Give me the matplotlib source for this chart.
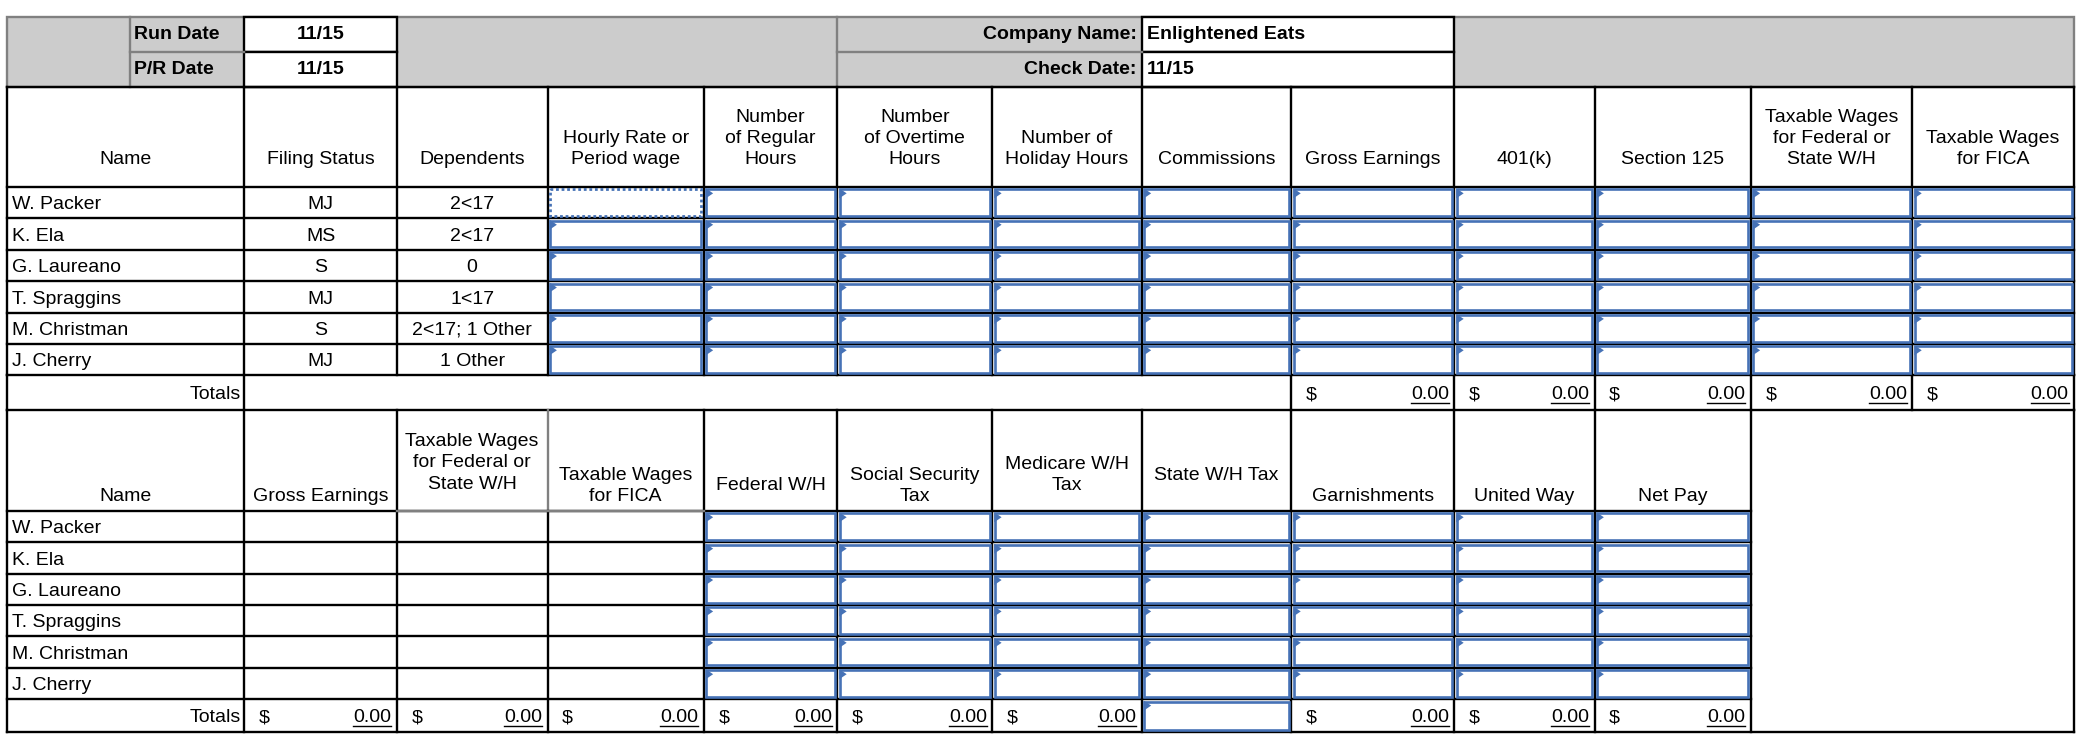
import matplotlib
matplotlib.use('Agg')
import matplotlib.pyplot as plt
from matplotlib.patches import Rectangle, Polygon

plt.rcParams['font.family'] = ['Liberation Sans', 'DejaVu Sans']

# ---- sheet content ----
names = ['W. Packer', 'K. Ela', 'G. Laureano', 'T. Spraggins', 'M. Christman', 'J. Cherry']
filing_status = ['MJ', 'MS', 'S', 'MJ', 'S', 'MJ']
dependents = ['2<17', '2<17', '0', '1<17', '2<17; 1 Other', '1 Other']

run_date = '11/15'
pr_date = '11/15'
company_name = 'Enlightened Eats'
check_date = '11/15'

earnings_headers = ['Name', 'Filing Status', 'Dependents', 'Hourly Rate or\nPeriod wage',
                    'Number\nof Regular\nHours', 'Number\nof Overtime\nHours',
                    'Number of\nHoliday Hours', 'Commissions', 'Gross Earnings', '401(k)',
                    'Section 125', 'Taxable Wages\nfor Federal or\nState W/H',
                    'Taxable Wages\nfor FICA']
# totals for Gross Earnings .. Taxable Wages for FICA
earnings_totals = [0.00, 0.00, 0.00, 0.00, 0.00]

deduction_headers = ['Name', 'Gross Earnings', 'Taxable Wages\nfor Federal or\nState W/H',
                     'Taxable Wages\nfor FICA', 'Federal W/H', 'Social Security\nTax',
                     'Medicare W/H\nTax', 'State W/H Tax', 'Garnishments', 'United Way',
                     'Net Pay']
# totals for Gross Earnings .. Net Pay (State W/H total is an empty input cell)
deduction_totals = [0.00, 0.00, 0.00, 0.00, 0.00, 0.00, None, 0.00, 0.00, 0.00]

# ---- layout (pixel grid of the sheet) ----
col_x = [5, 183, 297, 410, 527, 627, 743, 855, 967, 1089, 1194, 1311, 1432, 1553]
row_h = 23.5
top1, hdr1_bot = 65, 140
tot1_top, tot1_bot = hdr1_bot + 6 * row_h, 307
hdr2_bot = 382.5
tot2_top, tot2_bot = hdr2_bot + 6 * row_h, 548
hdr2_baselines = [375, 375, 366, 375, 367, 375, 367, 359, 375, 375, 375]

GRAY_FILL = '#cccccc'
GRAY_LINE = '#808080'
BLUE = '#4672b6'
FS = 14
LW = 1.7

fig = plt.figure(figsize=(20.94, 7.48), dpi=100)
ax = fig.add_axes([0, 0, 1, 1])
ax.set_xlim(0, 1568)
ax.set_ylim(560, 0)
ax.axis('off')


def hline(y, x0, x1, color='black', lw=LW):
    ax.plot([x0, x1], [y, y], color=color, lw=lw, solid_capstyle='projecting', zorder=3)


def vline(x, y0, y1, color='black', lw=LW):
    ax.plot([x, x], [y0, y1], color=color, lw=lw, solid_capstyle='projecting', zorder=3)


def input_cell(x0, x1, y0, y1, selected=False):
    pad = 1.8
    if selected:
        ax.add_patch(Rectangle((x0 + pad, y0 + pad), x1 - x0 - 2 * pad, y1 - y0 - 2 * pad,
                               fill=False, edgecolor=BLUE, lw=2.0, linestyle=(0, (1, 1)), zorder=4))
        return
    ax.add_patch(Rectangle((x0 + pad, y0 + pad), x1 - x0 - 2 * pad, y1 - y0 - 2 * pad,
                           fill=False, edgecolor=BLUE, lw=1.9, zorder=4))
    ax.add_patch(Polygon([(x0 + 1.5, y0 + 1.0), (x0 + 1.5, y0 + 8.5), (x0 + 7.0, y0 + 4.75)],
                         closed=True, facecolor=BLUE, edgecolor='none', zorder=5))


def lines_text(x, last_baseline, s, ha='center', bold=False, step=16):
    parts = s.split('\n')
    for j, p in enumerate(parts):
        ax.text(x, last_baseline - (len(parts) - 1 - j) * step, p, ha=ha, va='baseline',
                fontsize=FS, fontweight='bold' if bold else 'normal', zorder=6)


underlined = []


def money(x0, x1, yb, v):
    ax.text(x0 + 11, yb, '$', ha='left', va='baseline', fontsize=FS, zorder=6)
    t = ax.text(x1 - 4, yb, f'{v:.2f}', ha='right', va='baseline', fontsize=FS, zorder=6)
    underlined.append((t, yb + 3))


# ---- company header block ----
ax.add_patch(Rectangle((5, 13), 1548, 52, facecolor=GRAY_FILL, edgecolor=GRAY_LINE, lw=LW, zorder=1))
for (x0, x1) in [(183, 297), (855, 1089)]:
    for (y0, y1) in [(13, 39), (39, 65)]:
        ax.add_patch(Rectangle((x0, y0), x1 - x0, y1 - y0, facecolor='white',
                               edgecolor='black', lw=LW, zorder=2))
vline(97, 13, 65, GRAY_LINE)
hline(39, 97, 183, GRAY_LINE)
vline(627, 13, 65, GRAY_LINE)
hline(39, 627, 855, GRAY_LINE)

ax.text(100, 26, 'Run Date', ha='left', va='center', fontsize=FS, fontweight='bold', zorder=6)
ax.text(100, 52, 'P/R Date', ha='left', va='center', fontsize=FS, fontweight='bold', zorder=6)
ax.text(240, 26, run_date, ha='center', va='center', fontsize=FS, fontweight='bold', zorder=6)
ax.text(240, 52, pr_date, ha='center', va='center', fontsize=FS, fontweight='bold', zorder=6)
ax.text(851, 26, 'Company Name:', ha='right', va='center', fontsize=FS, fontweight='bold', zorder=6)
ax.text(851, 52, 'Check Date:', ha='right', va='center', fontsize=FS, fontweight='bold', zorder=6)
ax.text(859, 26, company_name, ha='left', va='center', fontsize=FS, fontweight='bold', zorder=6)
ax.text(859, 52, check_date, ha='left', va='center', fontsize=FS, fontweight='bold', zorder=6)

# ---- earnings table ----
for i, h in enumerate(earnings_headers):
    cx = (col_x[i] + col_x[i + 1]) / 2
    lines_text(cx, 123, h)

row_tops = [hdr1_bot + k * row_h for k in range(7)]
for k in range(6):
    yb = row_tops[k] + row_h / 2 + 5
    ax.text(9, yb, names[k], ha='left', va='baseline', fontsize=FS, zorder=6)
    ax.text((col_x[1] + col_x[2]) / 2, yb, filing_status[k], ha='center', va='baseline', fontsize=FS, zorder=6)
    ax.text((col_x[2] + col_x[3]) / 2, yb, dependents[k], ha='center', va='baseline', fontsize=FS, zorder=6)

for y in row_tops:
    hline(y, col_x[0], col_x[-1])
hline(top1, col_x[0], col_x[-1])
hline(tot1_bot, col_x[0], col_x[-1])
for x in col_x:
    vline(x, top1, tot1_top)
for x in [col_x[0], col_x[1]] + col_x[8:]:
    vline(x, tot1_top, tot1_bot)

yb = (tot1_top + tot1_bot) / 2 + 5
ax.text(col_x[1] - 3, yb, 'Totals', ha='right', va='baseline', fontsize=FS, zorder=6)
for j, v in enumerate(earnings_totals):
    money(col_x[8 + j], col_x[9 + j], yb, v)

for k in range(6):
    for c in range(3, 13):
        input_cell(col_x[c], col_x[c + 1], row_tops[k], row_tops[k + 1],
                   selected=(k == 0 and c == 3))

# ---- deductions table ----
for i, h in enumerate(deduction_headers):
    cx = (col_x[i] + col_x[i + 1]) / 2
    lines_text(cx, hdr2_baselines[i], h)

row_tops2 = [hdr2_bot + k * row_h for k in range(7)]
for k in range(6):
    yb = row_tops2[k] + row_h / 2 + 5
    ax.text(9, yb, names[k], ha='left', va='baseline', fontsize=FS, zorder=6)

for y in row_tops2:
    hline(y, col_x[0], col_x[11])
hline(tot2_bot, col_x[0], col_x[-1])
for i, x in enumerate(col_x[:12]):
    if i == 3:
        vline(x, tot1_bot, hdr2_bot, GRAY_LINE)
        vline(x, hdr2_bot, tot2_bot)
    else:
        vline(x, tot1_bot, tot2_bot)
hline(hdr2_bot, col_x[2], col_x[4], GRAY_LINE)
vline(col_x[-1], tot1_bot, tot2_bot)

yb = (tot2_top + tot2_bot) / 2 + 5
ax.text(col_x[1] - 3, yb, 'Totals', ha='right', va='baseline', fontsize=FS, zorder=6)
for j, v in enumerate(deduction_totals):
    if v is None:
        input_cell(col_x[1 + j], col_x[2 + j], tot2_top, tot2_bot)
    else:
        money(col_x[1 + j], col_x[2 + j], yb, v)

for k in range(6):
    for c in range(4, 11):
        input_cell(col_x[c], col_x[c + 1], row_tops2[k], row_tops2[k + 1])

# underline the dollar amounts
fig.canvas.draw()
inv = ax.transData.inverted()
for t, yu in underlined:
    bb = t.get_window_extent()
    (x0, _), (x1, _) = inv.transform([(bb.x0, bb.y0), (bb.x1, bb.y1)])
    ax.plot([x0, x1], [yu, yu], color='black', lw=1.0, zorder=6)

fig.savefig('out.png', dpi=100, facecolor='white')
